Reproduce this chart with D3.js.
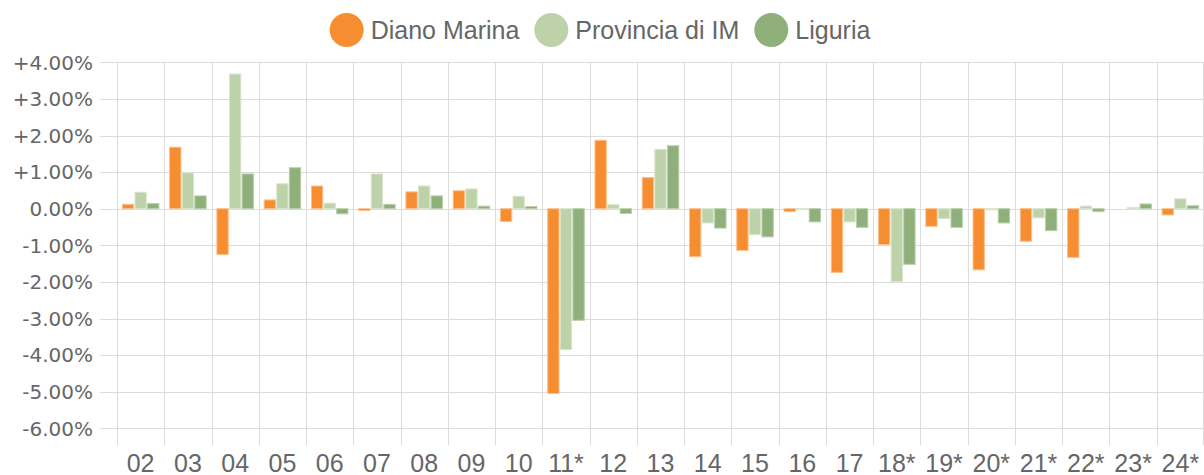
<!DOCTYPE html>
<html>
<head>
<meta charset="utf-8">
<script src="https://cdn.jsdelivr.net/npm/d3@7"></script>
<style>
  body { margin: 0; background: #fff; }
  svg { display: block; }
</style>
</head>
<body>
<svg></svg>
<script>

// anni (l'asterisco segna i dati stimati)
var anni = ["02", "03", "04", "05", "06", "07", "08", "09", "10", "11*", "12", "13", "14", "15", "16", "17", "18*", "19*", "20*", "21*", "22*", "23*", "24*"]

var serie = ["Diano Marina", "Provincia di IM", "Liguria"]

// variazione percentuale annua
var diano = [0.12, 1.68, -1.25, 0.24, 0.62, -0.05, 0.46, 0.49, -0.35, -5.05, 1.87, 0.85, -1.31, -1.14, -0.08, -1.74, -0.98, -0.48, -1.67, -0.89, -1.33, 0.00, -0.17]
var provincia = [0.45, 0.98, 3.68, 0.68, 0.15, 0.95, 0.62, 0.54, 0.34, -3.85, 0.11, 1.62, -0.39, -0.71, -0.02, -0.36, -1.99, -0.27, -0.03, -0.25, 0.07, 0.03, 0.27]
var liguria = [0.14, 0.35, 0.95, 1.12, -0.14, 0.12, 0.35, 0.07, 0.06, -3.05, -0.13, 1.72, -0.53, -0.77, -0.36, -0.51, -1.52, -0.51, -0.39, -0.60, -0.08, 0.13, 0.08]

var tickY = [-6, -5, -4, -3, -2, -1, 0, 1, 2, 3, 4]

var colori = ["#f68e31", "#bdd2a9", "#8fb07b"]
var bordi = ["#fbc08c", "#d9e6cc", "#b9d0aa"]

var valori = [diano, provincia, liguria]

var W = 1204, H = 475
var margSx = 117, margDx = 1204, margSu = 62.3, margGiu = 428.3

var svg = d3.select("svg")
    .attr("width", W)
    .attr("height", H)

var x0 = d3.scaleBand()
    .domain(anni)
    .range([margSx, margDx])
    .paddingInner(0)
    .paddingOuter(0)

var x1 = d3.scaleBand()
    .domain(serie)
    .range([x0.bandwidth() * 0.1, x0.bandwidth() * 0.9])
    .paddingInner(0.1)
    .paddingOuter(0.05)

var y = d3.scaleLinear()
    .domain([-6, 4])
    .range([margGiu, margSu])

function formato(v) {
    var s = Math.abs(v).toFixed(2) + "%"
    if (v > 0) return "+" + s
    if (v < 0) return "-" + s
    return s
}

//griglia orizzontale + etichette asse y
var gy = svg.append("g")
tickY.forEach(function (t) {
    gy.append("line")
    .attr("x1", margSx - 17)
    .attr("x2", margDx)
    .attr("y1", Math.round(y(t)) + 0.5)
    .attr("y2", Math.round(y(t)) + 0.5)
    .attr("stroke", "#dcdcdc")
    .attr("stroke-width", 1)

    gy.append("text")
    .attr("x", 93)
    .attr("y", y(t))
    .attr("dy", "0.36em")
    .attr("text-anchor", "end")
    .attr("font-family", "DejaVu Sans")
    .attr("font-size", 20)
    .attr("fill", "#666")
    .text(formato(t))
})

//griglia verticale + etichette asse x
var gx = svg.append("g")
var bordiX = anni.map(function (a) { return x0(a) })
bordiX.push(margDx - 1)
bordiX.forEach(function (bx) {
    gx.append("line")
    .attr("x1", Math.round(bx) + 0.5)
    .attr("x2", Math.round(bx) + 0.5)
    .attr("y1", margSu)
    .attr("y2", margGiu + 17)
    .attr("stroke", "#dcdcdc")
    .attr("stroke-width", 1)
})
anni.forEach(function (a) {
    gx.append("text")
    .attr("x", x0(a) + x0.bandwidth() / 2)
    .attr("y", 472)
    .attr("text-anchor", "middle")
    .attr("font-family", "Liberation Sans, Arial, sans-serif")
    .attr("font-size", 25)
    .attr("fill", "#666")
    .text(a)
})

//barre
serie.forEach(function (s, j) {
    svg.append("g")
    .selectAll("rect")
    .data(valori[j])
    .join("rect")
    .attr("x", function (d, i) { return x0(anni[i]) + x1(s) })
    .attr("y", function (d) { return y(Math.max(0, d)) })
    .attr("width", x1.bandwidth())
    .attr("height", function (d) { return Math.abs(y(d) - y(0)) })
    .attr("fill", colori[j])
    .attr("stroke", function (d) { return d == 0 ? "none" : bordi[j] })
    .attr("stroke-width", 1)
})

//legenda
var leg = svg.append("g")
var posX = 0
serie.forEach(function (s, j) {
    leg.append("circle")
    .attr("cx", posX + 17)
    .attr("cy", 30)
    .attr("r", 17)
    .attr("fill", colori[j])

    var t = leg.append("text")
    .attr("x", posX + 41)
    .attr("y", 39)
    .attr("font-family", "Liberation Sans, Arial, sans-serif")
    .attr("font-size", 25)
    .attr("fill", "#666")
    .text(s)

    posX = posX + 41 + t.node().getComputedTextLength() + 15
})
var largh = posX - 15
leg.attr("transform", "translate(" + (600 - largh / 2) + ",0)")

</script>
</body>
</html>
